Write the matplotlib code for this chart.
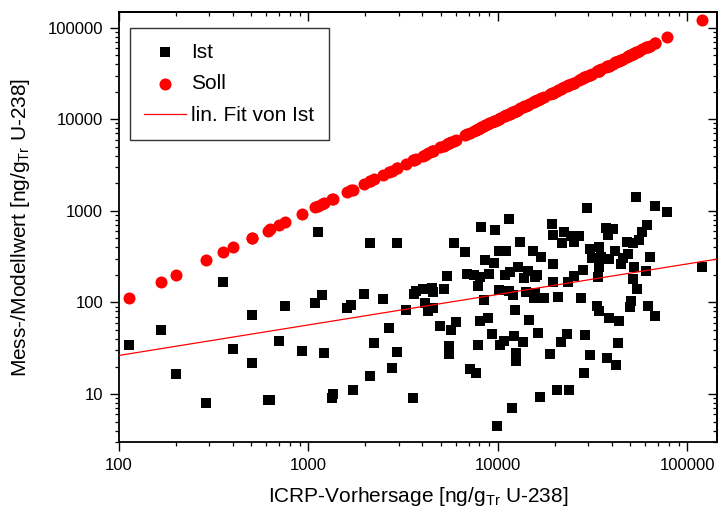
import matplotlib
matplotlib.use('Agg')
import matplotlib.pyplot as plt
from matplotlib.ticker import LogLocator, NullFormatter, FuncFormatter
import numpy as np

icrp = [113, 167, 199, 289, 352, 402, 502, 502, 610, 628,
        700, 753, 929, 1089, 1130, 1177, 1206, 1340, 1355, 1600,
        1675, 1710, 1955, 2118, 2118, 2207, 2471, 2649, 2757, 2929,
        2929, 3281, 3556, 3589, 3707, 4018, 4101, 4273, 4487, 4520,
        4536, 4967, 5166, 5422, 5534, 5556, 5675, 5838, 5980, 6674,
        6890, 7091, 7446, 7689, 7848, 7848, 8014, 8077, 8170, 8410,
        8580, 8865, 9010, 9310, 9490, 9680, 9880, 10090, 10170, 10300,
        10720, 10860, 11070, 11400, 11400, 11540, 11860, 12010, 12110, 12250,
        12450, 12400, 12700, 13120, 13510, 13780, 14060, 14410, 14650, 15250,
        15440, 15630, 15780, 16080, 16290, 16750, 16950, 17450, 18930, 19380,
        19460, 19460, 19460, 20510, 20750, 21620, 21790, 22220, 23170, 23440,
        23640, 24430, 25120, 25120, 26710, 27620, 28060, 28580, 28950, 29440,
        30540, 30760, 31530, 33370, 34040, 33650, 34040, 34340, 35170, 37390,
        37680, 38170, 38480, 38480, 40560, 41700, 41860, 42850, 43720, 44630,
        45770, 48290, 48660, 49690, 50440, 51500, 51740, 52580, 53800, 54280,
        55340, 57890, 60740, 61180, 62030, 63300, 67290, 67760, 78140, 120200]

ist = [34.3, 50, 16.6, 8.0, 167, 31, 72.8, 21.8, 8.7, 8.7,
       38.2, 90.6, 29.7, 98.4, 585, 120, 28, 9.06, 10.0, 86,
       94.4, 11.0, 124, 443, 15.7, 36.4, 110, 52.5, 19.1, 443,
       28.5, 83.2, 9.06, 124, 135, 142, 98.4, 81.2, 143, 129,
       86, 54.8, 141, 197, 33.2, 27.1, 49.5, 448, 60.5, 354,
       204, 18.7, 200, 17.0, 150, 34.0, 192, 62.1, 675, 107,
       292, 68.1, 204, 45.2, 268, 621, 4.52, 369, 138, 34.0,
       37.6, 200, 369, 811, 134, 214, 7.05, 121, 42.7, 81.8,
       28.0, 22.7, 243, 455, 36.6, 184, 129, 223, 64.7, 369,
       112, 192, 127, 200, 46.8, 9.29, 312, 112, 27.3, 716,
       547, 264, 167, 11.2, 116, 37.0, 443, 595, 45.6, 169,
       11.0, 525, 195, 463, 525, 112, 227, 17.0, 43.7, 1087,
       382, 26.4, 305, 92.1, 79.8, 189, 408, 241, 312, 647,
       24.7, 547, 67.7, 297, 631, 367, 20.9, 36.1, 62.6, 264,
       305, 452, 340, 88.3, 103, 443, 180, 243, 1409, 140,
       483, 595, 222, 703, 90.6, 310, 71.0, 1143, 976, 243]

# Soll = model value, identical to the prediction
soll = list(icrp)

# fit of Ist as shown in the chart: log10(y) = fit_intercept + fit_slope * log10(x)
fit_slope = 0.333
fit_intercept = 0.756

x_limits = (100, 1.43e5)
y_limits = (3, 1.48e5)

plt.rcParams['font.family'] = ['Liberation Sans', 'DejaVu Sans']
plt.rcParams['mathtext.fontset'] = 'custom'
plt.rcParams['mathtext.rm'] = 'Liberation Sans'
plt.rcParams['mathtext.it'] = 'Liberation Sans:italic'

fig = plt.figure(figsize=(7.18, 5.16), dpi=100)
ax = fig.add_axes([0.1657, 0.1434, 0.8325, 0.8333])

ax.scatter(icrp, ist, marker='s', s=52, c='black', linewidths=0, label='Ist', zorder=3)
ax.scatter(icrp, soll, marker='o', s=75, c='#ff0000', linewidths=0, label='Soll', zorder=4)

xf = np.array(x_limits)
ax.plot(xf, 10 ** (fit_intercept + fit_slope * np.log10(xf)), color='#ff0000', lw=0.9,
        label='lin. Fit von Ist', zorder=5)

ax.set_xscale('log')
ax.set_yscale('log')
ax.set_xlim(*x_limits)
ax.set_ylim(*y_limits)

for a in (ax.xaxis, ax.yaxis):
    a.set_major_locator(LogLocator(base=10))
    a.set_minor_locator(LogLocator(base=10, subs=np.arange(2, 10)))
    a.set_minor_formatter(NullFormatter())
    a.set_major_formatter(FuncFormatter(lambda v, p: '%d' % v))

ax.tick_params(which='major', direction='out', length=6.5, width=1.0, labelsize=12, pad=5)
ax.tick_params(which='minor', direction='out', length=3.2, width=0.9)
for s in ax.spines.values():
    s.set_linewidth(1.3)

# top and right axes with inward ticks, no labels
secx = ax.secondary_xaxis('top')
secy = ax.secondary_yaxis('right')
for sec, a in ((secx, secx.xaxis), (secy, secy.yaxis)):
    a.set_major_locator(LogLocator(base=10))
    a.set_minor_locator(LogLocator(base=10, subs=np.arange(2, 10)))
    a.set_major_formatter(NullFormatter())
    a.set_minor_formatter(NullFormatter())
    sec.tick_params(which='major', direction='in', length=6.5, width=1.0)
    sec.tick_params(which='minor', direction='in', length=3.2, width=0.9)
    for s in sec.spines.values():
        s.set_linewidth(1.3)

ax.set_xlabel(r'ICRP-Vorhersage [ng/g$_{\mathrm{Tr}}$ U-238]', fontsize=15, labelpad=9)
ax.set_ylabel(r'Mess-/Modellwert [ng/g$_{\mathrm{Tr}}$ U-238]', fontsize=15, labelpad=11)

leg = ax.legend(loc='upper left', bbox_to_anchor=(0.018, 0.963), borderaxespad=0,
                fontsize=15, frameon=True, fancybox=False, edgecolor='black',
                handlelength=2.0, handletextpad=0.25, labelspacing=0.62, borderpad=0.7)
leg.get_frame().set_linewidth(1.0)

fig.savefig('out.png', dpi=100)
